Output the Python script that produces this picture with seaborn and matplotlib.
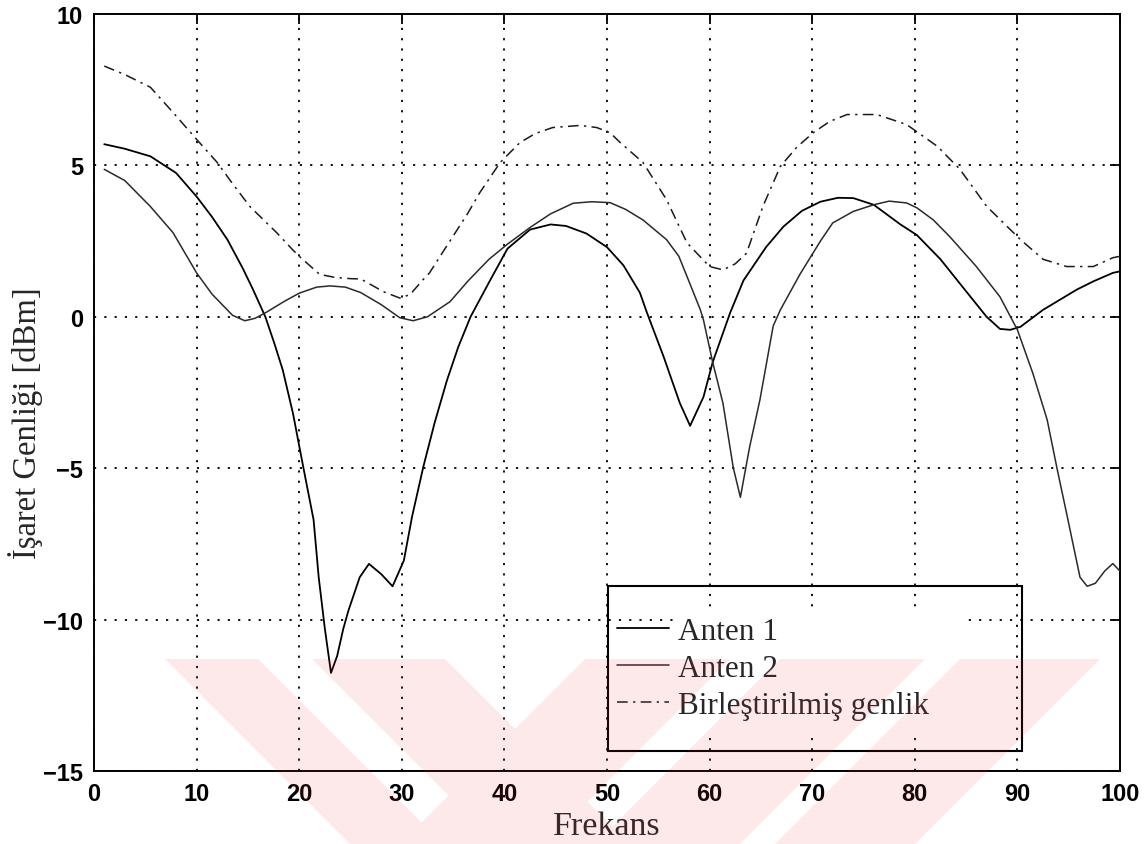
import numpy as np
import pandas as pd
import matplotlib
matplotlib.use("Agg")
import matplotlib.pyplot as plt
from matplotlib.patches import Rectangle, PathPatch
from matplotlib.path import Path
from matplotlib.lines import Line2D
import seaborn as sns

# Anten 1
x_anten1 = [1, 3, 5.5, 8, 10, 11.5, 13, 14.5, 15.5, 16.7, 17.6, 18.4, 19.4, 20.4,
            21.4, 21.9, 22.5, 23.1, 23.7, 24.3, 24.8, 25.9, 26.8, 28, 29.1, 30.2,
            31, 32.1, 33.2, 34.4, 35.5, 36.7, 38.6, 40.3, 42.5, 44.5, 46, 48, 50,
            51.6, 53.2, 53.9, 55.5, 57.1, 58.1, 59.4, 60.3, 62, 63.3, 65.5, 67.2,
            69, 70.8, 72.5, 74, 76, 78.6, 80.2, 82.5, 85.1, 87, 88.3, 89.3, 90.3,
            92.5, 95.8, 97.4, 99.3, 100]
y_anten1 = [5.7, 5.55, 5.3, 4.75, 3.97, 3.3, 2.55, 1.6, 0.9, 0.0, -0.9, -1.76, -3.2,
            -4.97, -6.7, -8.6, -10.3, -11.76, -11.2, -10.3, -9.7, -8.6, -8.16, -8.5,
            -8.9, -8.05, -6.6, -4.95, -3.5, -2.1, -1.0, 0.0, 1.2, 2.25, 2.88, 3.05,
            3.0, 2.75, 2.3, 1.7, 0.8, 0.13, -1.3, -2.85, -3.6, -2.65, -1.5, 0.13,
            1.2, 2.3, 2.98, 3.5, 3.8, 3.93, 3.92, 3.7, 3.05, 2.7, 1.9, 0.8, 0.0,
            -0.4, -0.43, -0.33, 0.23, 0.9, 1.17, 1.45, 1.5]

# Anten 2
x_anten2 = [1, 3, 5.5, 7.7, 10, 11.5, 13.5, 14.7, 15.7, 16.8, 18.5, 20, 21.7, 23,
            24.5, 26, 28, 29.8, 31.1, 32.5, 34.7, 36.5, 38.5, 40.3, 42.5, 44.5,
            46.7, 48.5, 50.3, 51.8, 53.5, 55.8, 57, 57.8, 59.1, 59.4, 60.3, 61.3,
            62.3, 63, 63.9, 64.9, 66.2, 66.9, 68.8, 70.8, 72, 74, 76, 77.5, 79.2,
            80.2, 81.8, 83.4, 86, 88.3, 90, 91.5, 92.9, 93.9, 94.8, 96.1, 96.8,
            97.6, 98.5, 99.3, 100]
y_anten2 = [4.87, 4.5, 3.64, 2.78, 1.45, 0.75, 0.05, -0.13, -0.05, 0.15, 0.5, 0.78,
            0.98, 1.02, 0.98, 0.8, 0.4, -0.03, -0.13, 0.0, 0.5, 1.2, 1.9, 2.4, 2.95,
            3.4, 3.75, 3.8, 3.77, 3.55, 3.2, 2.55, 2.0, 1.33, 0.23, -0.1, -1.5,
            -2.85, -4.97, -5.96, -4.3, -2.75, -0.3, 0.23, 1.4, 2.5, 3.1, 3.48, 3.7,
            3.82, 3.76, 3.6, 3.2, 2.65, 1.66, 0.66, -0.43, -1.86, -3.4, -5.07, -6.5,
            -8.6, -8.9, -8.8, -8.4, -8.15, -8.4]

# Birleştirilmiş genlik
x_toplam = [1, 3, 5.5, 7.7, 10, 12, 13.5, 15.2, 17.8, 19.4, 20, 22, 23.5, 25, 26,
            28.2, 29.8, 30.8, 32, 32.7, 34.4, 36.4, 37.6, 39.6, 41.5, 43, 44.7,
            47.4, 49, 50.3, 51.3, 53.5, 55.8, 57.8, 60, 61.3, 62.5, 63.6, 65.2,
            66.9, 68.5, 70.1, 71.7, 73.4, 76.3, 79.2, 82.2, 84.4, 87, 90.3, 92.5,
            94.8, 97.4, 99.3, 100]
y_toplam = [8.28, 8.0, 7.58, 6.75, 5.86, 5.1, 4.4, 3.64, 2.78, 2.2, 2.0, 1.4, 1.3,
            1.26, 1.25, 0.83, 0.62, 0.73, 1.2, 1.45, 2.35, 3.4, 4.1, 5.1, 5.75,
            6.05, 6.25, 6.32, 6.25, 6.08, 5.75, 5.1, 3.87, 2.44, 1.66, 1.55, 1.75,
            2.1, 3.65, 4.97, 5.6, 6.08, 6.45, 6.68, 6.68, 6.35, 5.63, 4.87, 3.65,
            2.55, 1.9, 1.66, 1.66, 1.95, 2.0]

labels = ["Anten 1", "Anten 2", "Birleştirilmiş genlik"]
x_ticks = [0, 10, 20, 30, 40, 50, 60, 70, 80, 90, 100]
y_ticks = [-15, -10, -5, 0, 5, 10]

sns.set_theme(style="white")
plt.rcParams["font.family"] = ["Liberation Serif", "DejaVu Serif"]

W, H = 1147, 845
fig = plt.figure(figsize=(W / 100, H / 100), dpi=100)
ax = fig.add_axes([94 / W, 1 - 772 / H, (1120 - 94) / W, (772 - 15) / H])
ax.set_zorder(1)


def px_poly(points):
    """Polygon given in figure pixel coordinates (origin top-left)."""
    return [(px / W, 1 - py / H) for px, py in points]


df1 = pd.DataFrame({"Frekans": x_anten1, "Genlik": y_anten1})
df2 = pd.DataFrame({"Frekans": x_anten2, "Genlik": y_anten2})
df3 = pd.DataFrame({"Frekans": x_toplam, "Genlik": y_toplam})

sns.lineplot(data=df1, x="Frekans", y="Genlik", ax=ax, color="black",
             linewidth=1.3, estimator=None, sort=False, zorder=3)
sns.lineplot(data=df2, x="Frekans", y="Genlik", ax=ax, color="#2a2a2a",
             linewidth=1.1, estimator=None, sort=False, zorder=3)
sns.lineplot(data=df3, x="Frekans", y="Genlik", ax=ax, color="#1a1a1a",
             linewidth=1.1, estimator=None, sort=False, zorder=3)
dashdot = (0, (7, 3.5, 1.5, 3.5))
ax.get_lines()[2].set_linestyle(dashdot)

ax.set_xlim(0, 100)
ax.set_ylim(-15, 10)
ax.set_xticks(x_ticks)
ax.set_yticks(y_ticks)

ax.grid(True, color="black", linestyle=(0, (1.2, 4.5)), linewidth=1.3, zorder=1)
ax.set_axisbelow(True)
for sp in ax.spines.values():
    sp.set_color("black")
    sp.set_linewidth(1.4)

ax.tick_params(direction="in", length=7, width=1.3, top=True, right=True,
               colors="black", pad=8)
for lab in ax.get_xticklabels() + ax.get_yticklabels():
    lab.set_fontfamily(["Liberation Sans", "DejaVu Sans"])
    lab.set_fontweight("bold")
    lab.set_fontsize(17)

ax.set_xlabel("Frekans", fontsize=24.5, labelpad=4)
ax.set_ylabel("İşaret Genliği [dBm]", fontsize=23.5)
ax.yaxis.set_label_coords(-0.05, 0.461)

# legend: open frame, white block only behind the text column
ax.add_patch(Rectangle((0.569, 0.046), 0.28, 0.168, transform=ax.transAxes,
                       facecolor="white", edgecolor="none", zorder=4))
ax.add_patch(Rectangle((0.501, 0.026), 0.403, 0.218, transform=ax.transAxes,
                       facecolor="none", edgecolor="black", linewidth=1.5, zorder=5))
handles = [Line2D([], [], color="black", linewidth=1.3),
           Line2D([], [], color="#2a2a2a", linewidth=1.1),
           Line2D([], [], color="#1a1a1a", linewidth=1.1, linestyle=dashdot)]
leg = ax.legend(handles, labels, loc="upper left", bbox_to_anchor=(0.51, 0.204),
                frameon=False, fontsize=22.5, handlelength=1.66, handletextpad=0.29,
                labelspacing=0.26, borderaxespad=0, borderpad=0)
leg.set_zorder(6)

# faint translucent watermark laid over the lower edge; one compound path
# so crossing bands are tinted only once
bands = [
    [(165, 660), (258, 660), (443, 845), (350, 845)],
    [(312, 660), (445, 660), (630, 845), (497, 845)],
    [(585, 660), (730, 660), (545, 845), (400, 845)],
    [(780, 660), (925, 660), (740, 845), (595, 845)],
    [(960, 660), (1100, 660), (915, 845), (775, 845)],
]
wm_path = Path.make_compound_path(*[Path(px_poly(b + [b[0]]), closed=True)
                                    for b in bands])
fig.patches.append(PathPatch(wm_path, transform=fig.transFigure,
                             facecolor=(0.94, 0.16, 0.24), alpha=0.107,
                             edgecolor="none", zorder=10))

fig.savefig("out.png", dpi=100)
